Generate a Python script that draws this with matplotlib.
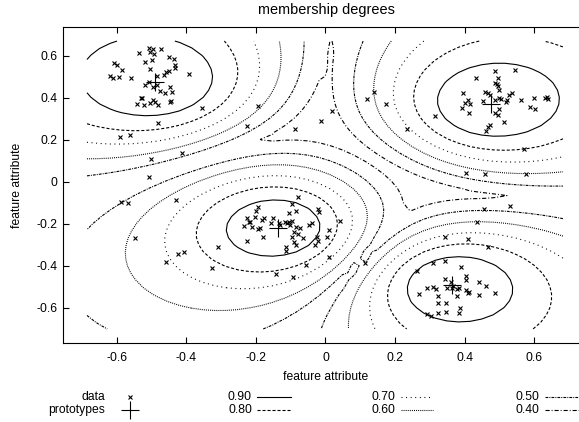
import numpy as np
import matplotlib.pyplot as plt
from matplotlib.lines import Line2D

plt.rcParams['font.family'] = ['Liberation Sans', 'DejaVu Sans']
plt.rcParams['font.size'] = 8.7
plt.rcParams['lines.scale_dashes'] = False

# data points
data_x = [
    # upper left group
    -0.537, -0.508, -0.496, -0.504, -0.494, -0.473, -0.518, -0.499, -0.451, -0.435,
    -0.609, -0.600, -0.585, -0.621, -0.612, -0.595, -0.559, -0.506, -0.486, -0.465,
    -0.460, -0.451, -0.432, -0.432, -0.392, -0.508, -0.496, -0.520, -0.486, -0.475,
    -0.463, -0.446, -0.441, -0.532, -0.528, -0.542, -0.523, -0.506, -0.496, -0.489,
    -0.482, -0.444, -0.446,
    -0.355, -0.481, -0.592, -0.563, -0.501, -0.508, -0.414, -0.227, -0.195, -0.087,
    # scattered near the middle
    -0.012, 0.019, 0.120, 0.139, 0.174, 0.235, 0.315, 0.571, 0.403, 0.460, 0.576,
    # upper right group
    0.489, 0.544, 0.434, 0.496, 0.487, 0.492, 0.496, 0.499, 0.396, 0.460,
    0.467, 0.473, 0.411, 0.401, 0.417, 0.393, 0.414, 0.454, 0.487, 0.499,
    0.504, 0.519, 0.523, 0.528, 0.536, 0.563, 0.499, 0.489, 0.496, 0.513,
    0.473, 0.467, 0.461, 0.588, 0.604, 0.601, 0.631, 0.638, 0.640,
    # lower left outliers
    -0.588, -0.568, -0.429, -0.547, -0.458, -0.425, -0.141, -0.093,
    # middle group
    -0.080, -0.195, -0.201, -0.096, -0.106, -0.086, -0.022, -0.019, -0.177, -0.182,
    -0.227, -0.204, -0.216, -0.221, -0.151, -0.235, -0.210, -0.195, -0.187, -0.156,
    -0.134, -0.131, -0.115, -0.110, -0.106, -0.101, -0.096, -0.086, -0.091, -0.074,
    -0.080, -0.064, -0.096, -0.091, -0.086, -0.114, -0.114, -0.048, -0.038, -0.022,
    -0.029, -0.024, -0.179, -0.227, 0.010, 0.005, 0.010, -0.055, -0.310, -0.406,
    -0.325,
    # lower right group
    0.043, 0.115, 0.343, 0.410, 0.467, 0.435, 0.456, 0.530, 0.262, 0.310,
    0.345, 0.391, 0.405, 0.403, 0.345, 0.360, 0.367, 0.350, 0.365, 0.377,
    0.384, 0.403, 0.410, 0.413, 0.379, 0.291, 0.310, 0.317, 0.269, 0.323,
    0.441, 0.461, 0.441, 0.489, 0.324, 0.348, 0.323, 0.347, 0.291, 0.304,
    0.388, 0.384,
]
data_y = [
    0.613, 0.637, 0.632, 0.621, 0.610, 0.632, 0.573, 0.581, 0.594, 0.584,
    0.565, 0.556, 0.533, 0.505, 0.495, 0.502, 0.494, 0.537, 0.505, 0.510,
    0.525, 0.530, 0.557, 0.541, 0.514, 0.478, 0.454, 0.460, 0.462, 0.435,
    0.422, 0.454, 0.430, 0.402, 0.398, 0.371, 0.367, 0.375, 0.390, 0.379,
    0.367, 0.386, 0.379,
    0.351, 0.283, 0.216, 0.224, 0.111, 0.025, 0.137, 0.267, 0.362, 0.254,
    0.292, 0.338, 0.394, 0.429, 0.371, 0.254, 0.314, 0.156, 0.044, 0.038, 0.038,
    0.530, 0.533, 0.494, 0.494, 0.473, 0.467, 0.457, 0.438, 0.422, 0.429,
    0.422, 0.413, 0.390, 0.378, 0.370, 0.354, 0.330, 0.387, 0.390, 0.398,
    0.394, 0.383, 0.390, 0.414, 0.425, 0.390, 0.349, 0.327, 0.319, 0.284,
    0.270, 0.260, 0.243, 0.359, 0.348, 0.398, 0.398, 0.406, 0.397,
    -0.095, -0.102, -0.086, -0.268, -0.379, -0.343, -0.440, -0.451,
    -0.073, -0.117, -0.137, -0.105, -0.146, -0.137, -0.130, -0.141, -0.173, -0.181,
    -0.173, -0.168, -0.189, -0.192, -0.173, -0.208, -0.213, -0.225, -0.217, -0.197,
    -0.197, -0.205, -0.192, -0.197, -0.192, -0.205, -0.184, -0.213, -0.237, -0.221,
    -0.249, -0.268, -0.260, -0.284, -0.300, -0.311, -0.329, -0.205, -0.197, -0.281,
    -0.300, -0.264, -0.264, -0.281, -0.229, -0.263, -0.359, -0.395, -0.311, -0.332,
    -0.411,
    -0.184, -0.384, -0.260, -0.273, -0.311, -0.192, -0.130, -0.114, -0.422, -0.387,
    -0.375, -0.403, -0.448, -0.467, -0.463, -0.475, -0.495, -0.506, -0.506, -0.511,
    -0.506, -0.514, -0.527, -0.522, -0.543, -0.506, -0.502, -0.510, -0.533, -0.543,
    -0.475, -0.495, -0.538, -0.527, -0.575, -0.578, -0.622, -0.621, -0.630, -0.638,
    -0.602, -0.625,
]

proto_x = [-0.489, 0.477, -0.136, 0.365]
proto_y = [0.478, 0.371, -0.217, -0.490]

levels = [0.90, 0.80, 0.70, 0.60, 0.50, 0.40]
level_labels = ['0.90', '0.80', '0.70', '0.60', '0.50', '0.40']

x_ticks = [-0.6, -0.4, -0.2, 0, 0.2, 0.4, 0.6]
x_tick_labels = ['-0.6', '-0.4', '-0.2', '0', '0.2', '0.4', '0.6']
y_ticks = [-0.6, -0.4, -0.2, 0, 0.2, 0.4, 0.6]
y_tick_labels = ['-0.6', '-0.4', '-0.2', '0', '0.2', '0.4', '0.6']

# line styles per level (gnuplot-ish dash patterns, in points)
styles = {
    0.90: 'solid',
    0.80: (0, (2.2, 1.4)),
    0.70: (0, (0.7, 2.6)),
    0.60: (0, (0.7, 0.8)),
    0.50: (0, (2.0, 0.8, 0.7, 0.8)),
    0.40: (0, (3.0, 1.4, 0.7, 1.4)),
}

W, H = 579, 422
fig = plt.figure(figsize=(W / 100, H / 100), dpi=100)
# plot area runs a little past the right edge of the picture
ax = fig.add_axes([63 / W, 79 / H, 526 / W, 316 / H])

# max fuzzy c-means membership (m = 2) on a coarse grid
gx = np.linspace(-0.686, 0.683, 42)
gy = np.linspace(-0.700, 0.671, 42)
GX, GY = np.meshgrid(gx, gy)
d2 = (GX[..., None] - np.array(proto_x)) ** 2 + (GY[..., None] - np.array(proto_y)) ** 2
d2 = np.maximum(d2, 1e-12)
inv = 1.0 / d2
u = inv / inv.sum(axis=-1, keepdims=True)
umax = u.max(axis=-1)

for lev in levels:
    cs = ax.contour(GX, GY, umax, levels=[lev], colors='k', linewidths=0.8)
    cs.set_linestyle(styles[lev])

ax.plot(data_x, data_y, 'x', color='k', ms=2.6, mew=0.8)
ax.plot(proto_x, proto_y, '+', color='k', ms=13, mew=0.8)

ax.set_xlim(-0.755, 0.758)
ax.set_ylim(-0.767, 0.738)
ax.set_xticks(x_ticks)
ax.set_xticklabels(x_tick_labels)
ax.set_yticks(y_ticks)
ax.set_yticklabels(y_tick_labels)
ax.tick_params(direction='in', length=4.3, width=0.8, top=True, right=True)
ax.tick_params(axis='x', pad=6.5)
ax.tick_params(axis='y', pad=4.3)
for s in ax.spines.values():
    s.set_linewidth(0.8)

ax.set_title('membership degrees', y=1.054, va='center', pad=0)
ax.set_xlabel('feature attribute', va='center')
ax.xaxis.set_label_coords(0.5, -0.108)
ax.set_ylabel('feature attribute', va='center')
ax.yaxis.set_label_coords(-0.088, 0.5)

# key below the plot, laid out like gnuplot's
row_y = [1 - 397 / H, 1 - 410 / H]
fig.text(105 / W, row_y[0], 'data', ha='right', va='center')
fig.text(105 / W, row_y[1], 'prototypes', ha='right', va='center')
fig.add_artist(Line2D([130 / W], [row_y[0]], marker='x', color='k', ms=2.6, mew=0.8,
                      transform=fig.transFigure))
fig.add_artist(Line2D([130 / W], [row_y[1]], marker='+', color='k', ms=13, mew=0.8,
                      transform=fig.transFigure))

cols = [(252, 257, 291), (395, 401, 433), (539, 545, 580)]
for i, lev in enumerate(levels):
    tx, x0, x1 = cols[i // 2]
    y = row_y[i % 2]
    fig.text(tx / W, y, level_labels[i], ha='right', va='center')
    fig.add_artist(Line2D([x0 / W, x1 / W], [y, y], color='k', lw=0.8,
                          linestyle=styles[lev], transform=fig.transFigure))

fig.savefig('out.png', dpi=100)
